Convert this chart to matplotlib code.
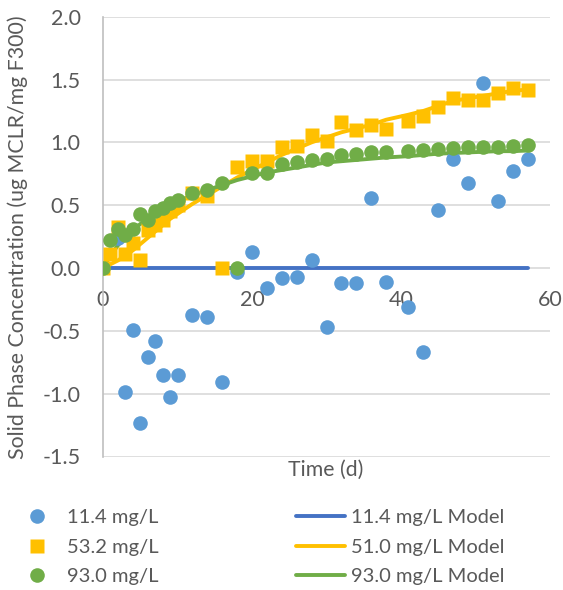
import matplotlib.pyplot as plt

# Data
t_low = [2, 3, 4, 5, 6, 7, 8, 9, 10, 12, 14, 16, 18, 20, 22, 24, 26, 28, 30,
         32, 34, 36, 38, 41, 43, 45, 47, 49, 51, 53, 55, 57]
c_low = [0.24, -0.99, -0.49, -1.23, -0.71, -0.58, -0.85, -1.03, -0.85, -0.37,
         -0.39, -0.91, -0.03, 0.13, -0.16, -0.08, -0.07, 0.06, -0.47, -0.12,
         -0.12, 0.56, -0.11, -0.31, -0.67, 0.46, 0.87, 0.68, 1.47, 0.53, 0.77, 0.87]

t_full = [0, 1, 2, 3, 4, 5, 6, 7, 8, 9, 10, 12, 14, 16, 18, 20, 22, 24, 26, 28,
          30, 32, 34, 36, 38, 41, 43, 45, 47, 49, 51, 53, 55, 57]
c_mid = [0.0, 0.11, 0.33, 0.11, 0.20, 0.06, 0.30, 0.34, 0.38, 0.45, 0.50, 0.60,
         0.57, 0.0, 0.80, 0.85, 0.85, 0.96, 0.97, 1.06, 1.01, 1.16, 1.10, 1.14,
         1.11, 1.17, 1.21, 1.28, 1.35, 1.34, 1.34, 1.39, 1.43, 1.42]
c_high = [0.0, 0.22, 0.31, 0.26, 0.31, 0.43, 0.38, 0.45, 0.48, 0.52, 0.54, 0.60,
          0.62, 0.68, 0.0, 0.76, 0.76, 0.83, 0.84, 0.86, 0.87, 0.90, 0.91, 0.92,
          0.92, 0.93, 0.94, 0.95, 0.955, 0.96, 0.965, 0.965, 0.97, 0.975]

# Model curves
t_model_low = [0, 57]
m_low = [0.0, 0.0]
m_mid = [0.0, 0.03, 0.06, 0.10, 0.14, 0.19, 0.24, 0.29, 0.34, 0.39, 0.43, 0.51,
         0.58, 0.65, 0.72, 0.78, 0.84, 0.90, 0.95, 1.00, 1.04, 1.08, 1.11, 1.14,
         1.18, 1.22, 1.25, 1.29, 1.33, 1.35, 1.37, 1.39, 1.41, 1.42]
m_high = [0.0, 0.10, 0.18, 0.25, 0.30, 0.35, 0.39, 0.43, 0.47, 0.50, 0.53, 0.58,
          0.62, 0.66, 0.70, 0.73, 0.76, 0.78, 0.80, 0.82, 0.84, 0.85, 0.86, 0.87,
          0.88, 0.89, 0.90, 0.91, 0.915, 0.92, 0.925, 0.93, 0.93, 0.935]

labels_data = ['11.4 mg/L', '53.2 mg/L', '93.0 mg/L']
labels_model = ['11.4 mg/L Model', '51.0 mg/L Model', '93.0 mg/L Model']

BLUE_PT = '#5B9BD5'
BLUE_LN = '#4472C4'
YELLOW = '#FFC000'
GREEN = '#70AD47'
TXT = '#595959'
GRID = '#D9D9D9'

plt.rcParams['font.family'] = ['Lato', 'DejaVu Sans']
FS_TICK = 15.5
FS_LAB = 15.3
FS_LEG = 14.5

fig = plt.figure(figsize=(5.63, 5.90), dpi=100)
ax = fig.add_axes([103 / 563, 1 - 456.5 / 590, 447 / 563, 439.8 / 590])

# model lines first, markers on top
l1, = ax.plot(t_model_low, m_low, color=BLUE_LN, lw=2.8, solid_capstyle='round', zorder=3)
l2, = ax.plot(t_full, m_mid, color=YELLOW, lw=2.8, solid_capstyle='round', zorder=3)
l3, = ax.plot(t_full, m_high, color=GREEN, lw=2.8, solid_capstyle='round', zorder=3)

p1, = ax.plot(t_low, c_low, 'o', color=BLUE_PT, ms=10.5, mec='none', zorder=4)
p2, = ax.plot(t_full, c_mid, 's', color=YELLOW, ms=10, mec='none', zorder=5)
p3, = ax.plot(t_full, c_high, 'o', color=GREEN, ms=10.5, mec='none', zorder=6)

ax.set_xlim(0, 60)
ax.set_ylim(-1.5, 2.0)
ax.set_xticks([0, 20, 40, 60])
ax.set_yticks([-1.5, -1.0, -0.5, 0.0, 0.5, 1.0, 1.5, 2.0])
ax.set_yticklabels([f'{v:.1f}' for v in ax.get_yticks()])

ax.grid(axis='y', color=GRID, lw=1.2, zorder=0)
ax.set_axisbelow(True)

for s in ['top', 'right']:
    ax.spines[s].set_visible(False)
ax.spines['left'].set_color('#BFBFBF')
ax.spines['left'].set_linewidth(1.2)
ax.spines['bottom'].set_position(('data', 0))
ax.spines['bottom'].set_visible(False)

ax.tick_params(axis='both', length=0, labelsize=FS_TICK, labelcolor=TXT)
ax.tick_params(axis='y', pad=16)
ax.tick_params(axis='x', pad=16)

fig.text(326 / 563, 1 - 470 / 590, 'Time (d)', ha='center', va='center',
         fontsize=FS_LAB, color=TXT)
fig.text(18 / 563, 1 - 237 / 590, 'Solid Phase Concentration (ug MCLR/mg F300)',
         rotation=90, ha='center', va='center', fontsize=FS_LAB, color=TXT)

leg = fig.legend([p1, p2, p3, l1, l2, l3], labels_data + labels_model,
                 ncol=2, loc='upper left', bbox_to_anchor=(12 / 563, 1 - 509 / 590),
                 frameon=False, fontsize=FS_LEG, labelcolor=TXT, handlelength=2.48,
                 handletextpad=0.25, columnspacing=6.8, labelspacing=0.62,
                 borderpad=0, borderaxespad=0)

fig.savefig('out.png', dpi=100)
